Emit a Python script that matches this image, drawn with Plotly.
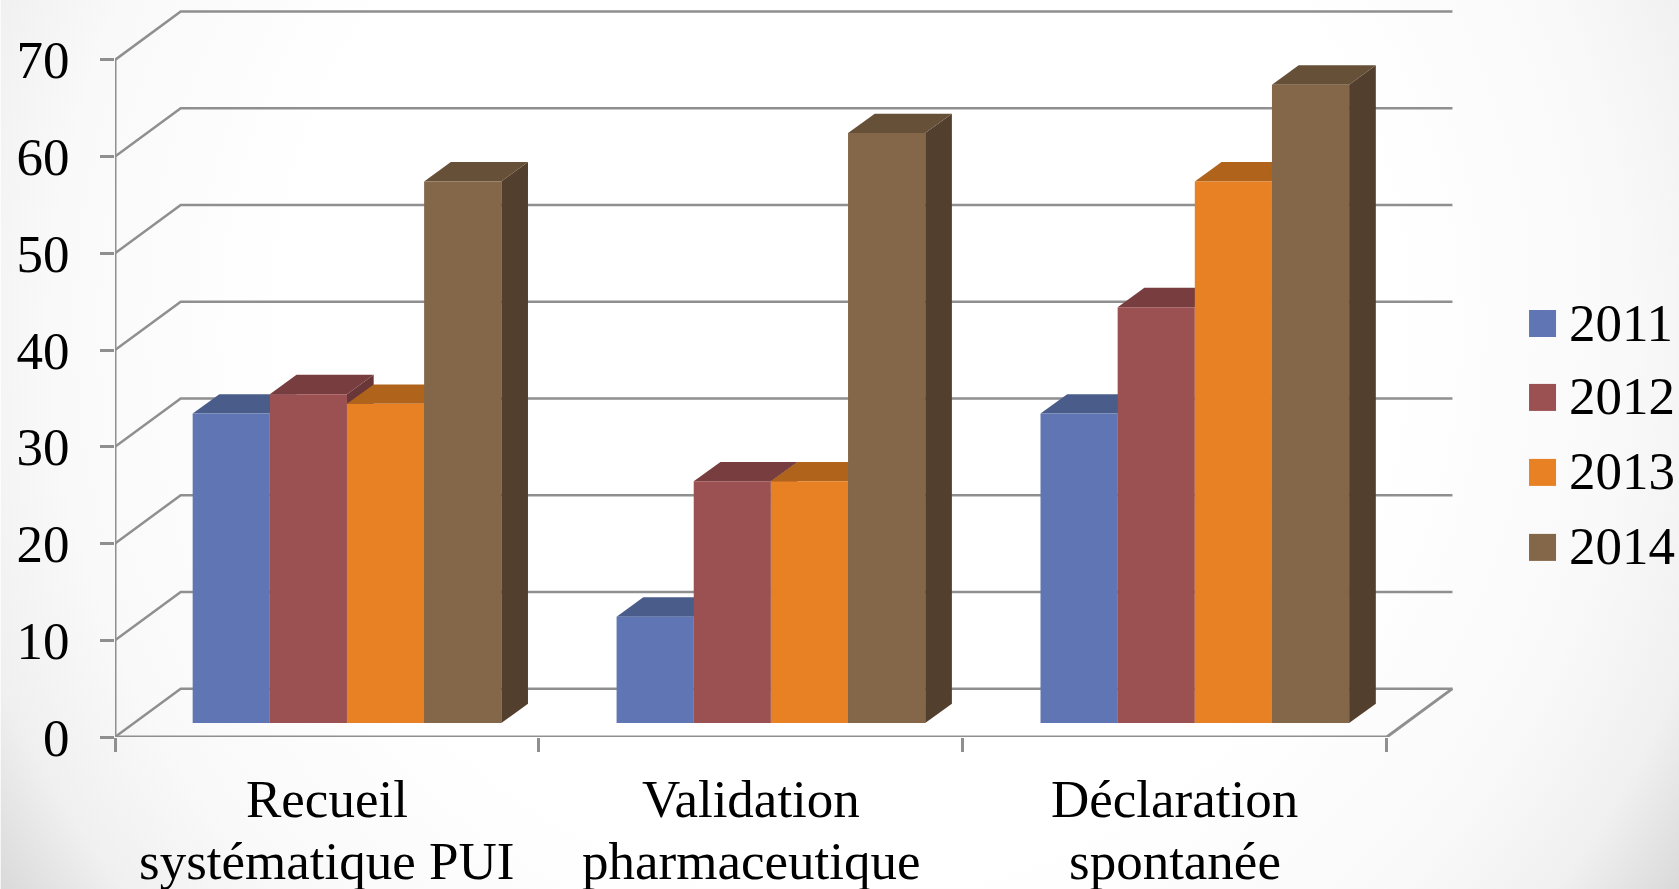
import base64
import plotly.graph_objects as go

categories = [["Recueil", "systématique PUI"], ["Validation", "pharmaceutique"], ["Déclaration", "spontanée"]]
years = ["2011", "2012", "2013", "2014"]
v2011 = [32, 11, 32]
v2012 = [34, 25, 43]
v2013 = [33, 25, 56]
v2014 = [56, 61, 66]
y_ticks = [0, 10, 20, 30, 40, 50, 60, 70]

series = [v2011, v2012, v2013, v2014]
front = ["#6076B4", "#9B5151", "#E88024", "#846649"]
top_c = ["#4A5C8A", "#783E3F", "#B0641B", "#665037"]
side_c = ["#3E4D75", "#693738", "#9A5816", "#533F2E"]

W, H = 1679, 889
S = W / 1568
L, B = 107 * S, H - 688 * S
PX_X, PX_Y = 396 * S, 9.03 * S
xr = [0, (W - L) / PX_X]
yr = [0, (H - B) / PX_Y]
GRID = "#8F8F8F"
FONT = dict(family="Liberation Serif", size=53, color="black")

wall_dx, wall_dy = 0.155, 5.0
bar_x0, bar_w, bar_base = 0.1832, 0.182, 1.44
d_x, d_y = 0.063, 2.0

fig = go.Figure()

# back wall and floor
for v in y_ticks:
    fig.add_trace(go.Scatter(x=[0, wall_dx, 3 + wall_dx], y=[v, v + wall_dy, v + wall_dy], mode="lines",
                             line=dict(color=GRID, width=2.5), showlegend=False, hoverinfo="skip"))
fig.add_trace(go.Scatter(x=[0, 3, 3 + wall_dx], y=[0, 0, wall_dy], mode="lines",
                         line=dict(color=GRID, width=3), showlegend=False, hoverinfo="skip", cliponaxis=False))

# top and side faces, painted left to right
for i in range(3):
    for j, vals in enumerate(series):
        x0 = i + bar_x0 + j * bar_w
        x1 = x0 + bar_w
        t = vals[i] + bar_base
        fig.add_trace(go.Scatter(x=[x1, x1 + d_x, x1 + d_x, x1, x1],
                                 y=[bar_base, bar_base + d_y, t + d_y, t, bar_base],
                                 fill="toself", fillcolor=side_c[j], mode="none",
                                 showlegend=False, hoverinfo="skip"))
        fig.add_trace(go.Scatter(x=[x0, x0 + d_x, x1 + d_x, x1, x0],
                                 y=[t, t + d_y, t + d_y, t, t],
                                 fill="toself", fillcolor=top_c[j], mode="none",
                                 showlegend=False, hoverinfo="skip"))

# front faces on an overlaid subplot so they sit above the side faces
for j, vals in enumerate(series):
    fig.add_trace(go.Bar(x=[i + bar_x0 + (j + 0.5) * bar_w for i in range(3)], y=vals, base=bar_base,
                         width=bar_w, name=years[j], marker=dict(color=front[j], line=dict(width=0)),
                         xaxis="x2", yaxis="y2", showlegend=False))

PW, PH = W - L, H - B
# legend
leg_y = [302 * S, 371 * S, 441 * S, 511 * S]
for j, year in enumerate(years):
    fig.add_shape(type="rect", xref="paper", yref="paper", line_width=0, fillcolor=front[j],
                  x0=(1529 - L) / PW, x1=(1556 - L) / PW,
                  y0=(PH - (leg_y[j] + 13.5)) / PH, y1=(PH - (leg_y[j] - 13.5)) / PH)
    fig.add_annotation(text=year, xref="paper", yref="paper", x=(1567 - L) / PW,
                       y=(PH - leg_y[j] + 1) / PH, xanchor="left", yanchor="middle", showarrow=False, font=FONT)

# category labels, one annotation per line to hold the tight line spacing
line_y = [799, 861]
for i, lines in enumerate(categories):
    for k, line in enumerate(lines):
        fig.add_annotation(text=line, xref="x", yref="paper", x=i + 0.5, y=(PH - line_y[k]) / PH,
                           xanchor="center", yanchor="middle", showarrow=False, font=FONT)

bg = f'''<svg xmlns="http://www.w3.org/2000/svg" width="{W}" height="{H}"><defs>
<radialGradient id="g" gradientUnits="userSpaceOnUse" cx="840" cy="330" r="1010">
<stop offset="0.55" stop-color="#ffffff"/><stop offset="0.78" stop-color="#f9f9f9"/>
<stop offset="0.9" stop-color="#f0f0f0"/><stop offset="1" stop-color="#d9d9d9"/></radialGradient></defs>
<rect width="{W}" height="{H}" fill="url(#g)"/></svg>'''
src = "data:image/svg+xml;base64," + base64.b64encode(bg.encode()).decode()

fig.update_layout(
    width=W, height=H, autosize=False, margin=dict(l=L, r=0, t=0, b=B, pad=0),
    paper_bgcolor="white", plot_bgcolor="rgba(0,0,0,0)", showlegend=False, barmode="overlay",
    images=[dict(source=src, xref="paper", yref="paper", x=-L / PW, y=1, sizex=W / PW, sizey=H / PH,
                 xanchor="left", yanchor="top", sizing="stretch", layer="below")],
    xaxis=dict(range=xr, tickvals=[0, 1, 2, 3], showticklabels=False, ticks="outside", ticklen=14, tickwidth=2.5,
               tickcolor=GRID, showline=False, showgrid=False, zeroline=False, fixedrange=True, automargin=False),
    yaxis=dict(range=yr, tickvals=y_ticks, ticklabelstandoff=20, fixedrange=True, automargin=False,
               showline=False, ticks="outside", ticklen=14, tickwidth=2.5, tickcolor=GRID, showgrid=False,
               zeroline=False, tickfont=FONT),
    xaxis2=dict(range=xr, overlaying="x", visible=False, anchor="y2", fixedrange=True),
    yaxis2=dict(range=yr, overlaying="y", visible=False, anchor="x2", fixedrange=True),
)
# vertical axis line
fig.add_shape(type="line", xref="x", yref="y", x0=0, x1=0, y0=0, y1=70, line=dict(color=GRID, width=3))

fig.write_html("out.html", config={"displayModeBar": False},
               post_script="document.body.style.margin='0';document.body.style.overflow='hidden';")
